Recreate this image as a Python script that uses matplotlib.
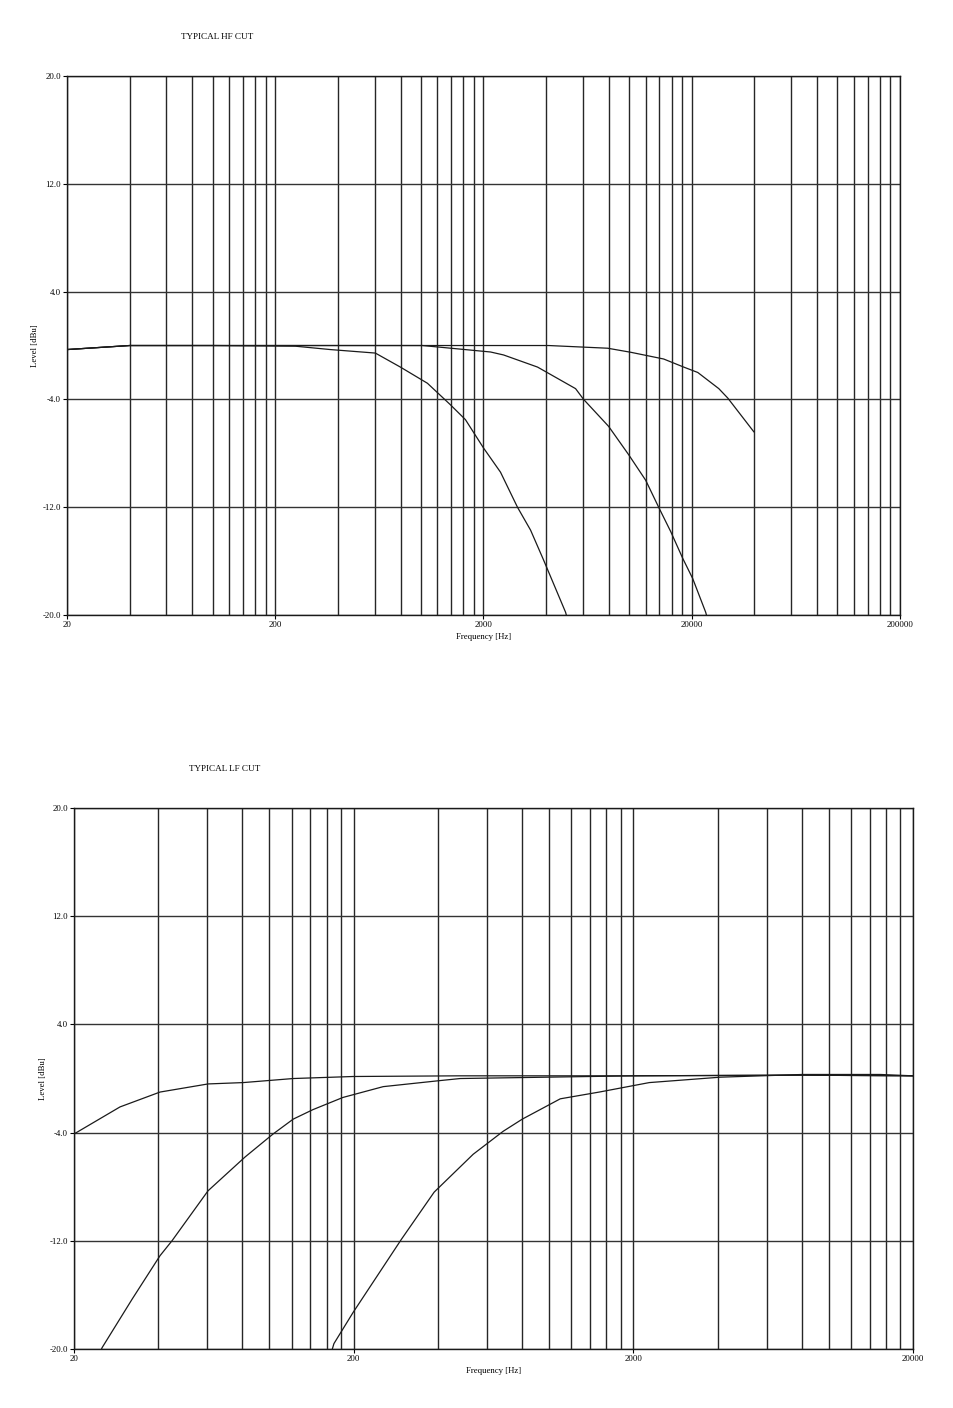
#!/usr/bin/env python3
"""Typical HF / LF cut response curves, redrawn from a scanned data sheet."""

import numpy as np
import matplotlib
matplotlib.use("Agg")
import matplotlib.pyplot as plt
from matplotlib.ticker import FixedLocator, NullFormatter

# --- HF cut (low-pass) curves, frequency in Hz, level in dBu ---
hf_freq_1 = [20, 40, 100, 250, 368, 605, 798, 1076, 1388, 1638, 2000, 2414,
             2912, 3366, 3882, 4958, 5100]
hf_level_1 = [-0.3, 0.0, 0.0, -0.05, -0.3, -0.56, -1.6, -2.8, -4.4, -5.5,
              -7.6, -9.4, -12.0, -13.7, -15.9, -19.8, -20.5]

hf_freq_2 = [20, 40, 100, 1018, 2162, 2497, 3636, 5536, 6052, 7978, 9954,
             12020, 13872, 15840, 18110, 20220, 23340, 24000]
hf_level_2 = [-0.3, 0.0, 0.0, 0.0, -0.48, -0.7, -1.6, -3.2, -4.0, -6.0, -8.1,
              -10.0, -12.0, -13.8, -15.8, -17.3, -19.8, -20.5]

hf_freq_3 = [20, 40, 100, 4108, 7890, 10180, 14660, 18300, 21380, 26980,
             29790, 39720]
hf_level_3 = [-0.3, 0.0, 0.0, 0.0, -0.2, -0.5, -1.0, -1.6, -2.0, -3.2, -3.9,
              -6.4]

# --- LF cut (high-pass) curves ---
lf_freq_1 = [20, 29.2, 40.6, 60.3, 80.5, 121.6, 199, 481, 2000, 8000, 20000]
lf_level_1 = [-4.1, -2.1, -1.0, -0.4, -0.3, 0.0, 0.15, 0.2, 0.2, 0.25, 0.2]

lf_freq_2 = [24.5, 25.2, 32.3, 40.6, 44.8, 60.3, 81.8, 103, 121.6, 143, 183,
             255, 408, 481, 2000, 8000, 20000]
lf_level_2 = [-20.5, -19.9, -16.3, -13.1, -12.0, -8.3, -5.8, -4.1, -3.0,
              -2.3, -1.4, -0.6, -0.15, 0.0, 0.2, 0.25, 0.2]

lf_freq_3 = [165, 170, 199, 296, 388, 535, 685, 802, 1096, 1511, 2281, 4097,
             8052, 15300, 20000]
lf_level_3 = [-20.5, -19.6, -17.3, -11.9, -8.4, -5.6, -3.9, -3.0, -1.5, -1.0,
              -0.3, 0.1, 0.3, 0.3, 0.2]

y_ticks = [20, 12, 4, -4, -12, -20]
y_labels = ["20.0", "12.0", "4.0", "-4.0", "-12.0", "-20.0"]
hf_decades = [20, 200, 2000, 20000, 200000]
lf_decades = [20, 200, 2000, 20000]

SERIF = "Liberation Serif"


def style_axes(ax, decades, title):
    ax.set_xscale("log")
    ax.set_xlim(decades[0], decades[-1])
    ax.set_ylim(-20, 20)

    ax.xaxis.set_major_locator(FixedLocator(decades))
    ax.set_xticklabels([str(d) for d in decades], fontsize=6.3, family=SERIF)
    minor = [d * k for d in decades[:-1] for k in range(2, 10)]
    ax.xaxis.set_minor_locator(FixedLocator(minor))
    ax.xaxis.set_minor_formatter(NullFormatter())

    ax.set_yticks(y_ticks)
    ax.set_yticklabels(y_labels, fontsize=6.3, family=SERIF)

    ax.grid(True, which="both", axis="x", color="0.15", lw=1.0)
    ax.grid(True, which="major", axis="y", color="0.2", lw=1.0)
    ax.tick_params(which="major", length=3, width=0.8, pad=1.5)
    ax.tick_params(which="minor", length=0)
    for sp in ax.spines.values():
        sp.set_color("0.1")
        sp.set_linewidth(1.0)

    ax.set_xlabel("Frequency [Hz]", fontsize=6.3, family=SERIF, labelpad=3)
    ax.set_ylabel("Level [dBu]", fontsize=6.3, family=SERIF, labelpad=2)
    ax.set_title(title, fontsize=6.6, family=SERIF, loc="left",
                 x=0.137, pad=27)


def main() -> None:
    fig = plt.figure(figsize=(9.54, 14.08), dpi=100)

    ax1 = fig.add_axes([0.0702, 0.5632, 0.8732, 0.3828])
    for f, lv in [(hf_freq_1, hf_level_1), (hf_freq_2, hf_level_2),
                  (hf_freq_3, hf_level_3)]:
        ax1.plot(f, lv, color="0.1", lw=0.9)
    style_axes(ax1, hf_decades, "TYPICAL HF CUT")

    ax2 = fig.add_axes([0.0776, 0.0419, 0.8794, 0.3842])
    for f, lv in [(lf_freq_1, lf_level_1), (lf_freq_2, lf_level_2),
                  (lf_freq_3, lf_level_3)]:
        ax2.plot(f, lv, color="0.1", lw=0.9)
    style_axes(ax2, lf_decades, "TYPICAL LF CUT")

    fig.savefig("out.png", dpi=100)


if __name__ == "__main__":
    main()
